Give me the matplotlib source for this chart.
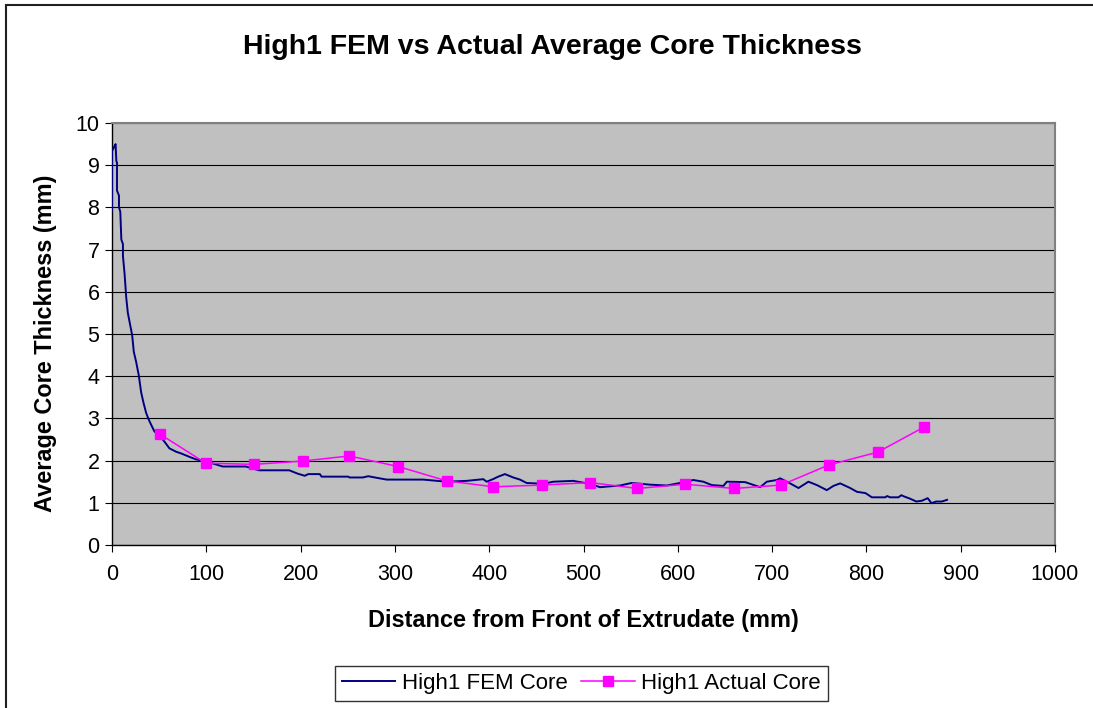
import matplotlib
matplotlib.use("Agg")
import matplotlib.pyplot as plt
from matplotlib.patches import Rectangle

plt.rcParams["font.family"] = ["Liberation Sans", "DejaVu Sans"]

TITLE = "High1 FEM vs Actual Average Core Thickness"
X_LABEL = "Distance from Front of Extrudate (mm)"
Y_LABEL = "Average Core Thickness (mm)"
FEM_NAME = "High1 FEM Core"
ACTUAL_NAME = "High1 Actual Core"

# FEM prediction (mm, mm)
fem_x = [0, 0, 1.5, 2.9, 3.8, 4.6, 5.3, 5.3, 7.4, 7.4, 8.8, 9.9, 11.6, 11.6,
         13.4, 15.1, 16.8, 19.3, 21.4, 23.1, 25.6, 28.4, 30.9, 33.4, 36.2,
         39.0, 41.5, 45.0, 49.6, 55.6, 60.9, 68, 73.3, 82, 89, 99.8, 108.6,
         117.5, 142, 156, 188, 197,
         204.5, 208, 220.4, 222.2, 250.4, 252, 266, 271.7, 278.8, 291.2, 330,
         354.8, 376, 393.7, 397.3, 404, 409.6, 416.7, 425.5, 432.6, 439.7,
         457.3, 468, 489.2, 494, 507, 517.5, 538.7, 551, 570.6, 588.3, 602.4,
         616.5, 627.1, 636, 648.4, 652, 671.4, 687.3, 694.4, 705, 708.5,
         719.1, 728, 738.5, 747.5, 758, 765, 772.2, 782.8, 790, 799, 805.8,
         820, 822, 825, 834, 837, 840, 846, 853, 859, 865, 869, 874, 880,
         885.5]
fem_y = [7.92, 9.34, 9.40, 9.46, 9.50, 9.10, 9.06, 8.40, 8.28, 8.00, 7.90,
         7.24, 7.13, 6.85, 6.41, 5.86, 5.50, 5.21, 4.97, 4.58, 4.34, 4.02,
         3.62, 3.37, 3.13, 2.97, 2.85, 2.69, 2.61, 2.45, 2.29, 2.21, 2.17,
         2.09, 2.03, 1.98, 1.92, 1.86, 1.86, 1.77, 1.77, 1.69,
         1.64, 1.68, 1.68, 1.62, 1.62, 1.60, 1.60, 1.63, 1.60, 1.55, 1.55,
         1.50, 1.52, 1.56, 1.50, 1.56, 1.62, 1.68, 1.60, 1.55, 1.47, 1.45,
         1.50, 1.52, 1.50, 1.45, 1.37, 1.41, 1.47, 1.43, 1.41, 1.47, 1.54,
         1.50, 1.42, 1.40, 1.50, 1.49, 1.37, 1.50, 1.54, 1.58, 1.46, 1.35,
         1.50, 1.42, 1.30, 1.40, 1.46, 1.35, 1.26, 1.23, 1.13, 1.13, 1.16,
         1.13, 1.13, 1.18, 1.15, 1.10, 1.03, 1.05, 1.11, 0.99, 1.03, 1.03,
         1.07]

# measured core thickness
actual_x = [50.6, 99.4, 150.4, 202.7, 251.5, 303.5, 354.8, 404.3, 456.3,
            507, 557, 608, 659.7, 709.6, 760.5, 812, 861.6]
actual_y = [2.63, 1.94, 1.91, 1.99, 2.11, 1.86, 1.52, 1.38, 1.42, 1.48,
            1.34, 1.44, 1.34, 1.42, 1.90, 2.20, 2.80]

x_ticks = list(range(0, 1001, 100))
y_ticks = list(range(0, 11))

W, H = 1093, 708
fig = plt.figure(figsize=(W / 100, H / 100), dpi=100)
fig.patch.set_facecolor("white")

# outer chart frame (runs off the right and bottom edges)
fig.add_artist(Rectangle((6 / W, -0.2), 2, 1.2 - 5 / H, transform=fig.transFigure,
                         fill=False, edgecolor="#202020", linewidth=1.5))

ax = fig.add_axes([112 / W, 1 - 545 / H, (1055 - 112) / W, (545 - 123) / H])
ax.set_facecolor("#C0C0C0")

ax.plot(fem_x, fem_y, color="#000080", linewidth=1.4, label=FEM_NAME, zorder=3)
ax.plot(actual_x, actual_y, color="#FF00FF", linewidth=1.1, marker="s",
        markersize=7.5, label=ACTUAL_NAME, zorder=4)

ax.set_xlim(0, 1000)
ax.set_ylim(0, 10)
ax.set_xticks(x_ticks)
ax.set_yticks(y_ticks)
ax.yaxis.grid(True, color="black", linewidth=0.8)
ax.set_axisbelow(True)
ax.tick_params(axis="both", direction="out", length=5, width=0.8, labelsize=15.5)
ax.tick_params(axis="x", pad=9)
ax.tick_params(axis="y", pad=4)

for side in ("left", "bottom"):
    ax.spines[side].set_color("black")
    ax.spines[side].set_linewidth(1.0)
for side in ("top", "right"):
    ax.spines[side].set_color("#808080")
    ax.spines[side].set_linewidth(1.5)

fig.text(552 / W, 1 - 47 / H, TITLE, ha="center", va="center",
         fontsize=20.5, fontweight="bold")
fig.text(583 / W, 1 - 620 / H, X_LABEL, ha="center", va="center",
         fontsize=16.9, fontweight="bold")
fig.text(46 / W, 1 - 343 / H, Y_LABEL, ha="center", va="center",
         rotation=90, fontsize=16.9, fontweight="bold")

leg = fig.legend(loc="center", bbox_to_anchor=(581.5 / W, 1 - 683.5 / H), ncol=2,
                 fontsize=16, frameon=True, fancybox=False, edgecolor="black",
                 handlelength=2.4, handletextpad=0.3, columnspacing=0.6,
                 borderpad=0.3)
leg.get_frame().set_linewidth(1.0)

fig.savefig("out.png", dpi=100, facecolor="white")
